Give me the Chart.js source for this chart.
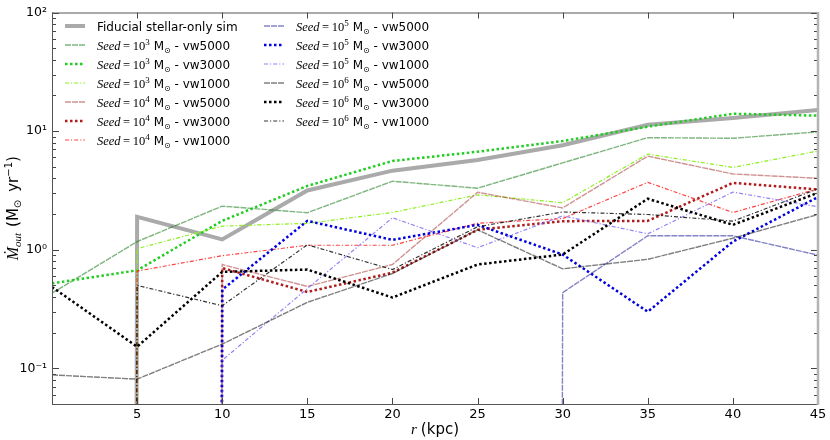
<!DOCTYPE html>
<html>
<head>
<meta charset="utf-8">
<script src="https://cdn.jsdelivr.net/npm/chart.js@4.4.1/dist/chart.umd.min.js"></script>
<style>
html,body{margin:0;padding:0;background:#fff}
canvas{display:block}
</style>
</head>
<body>
<canvas id="c" width="830" height="440"></canvas>
<script>
// radius (kpc) and outflow rates. 0 = no outflow (falls off the log axis)
const radius = [0, 5, 10, 15, 20, 25, 30, 35, 40, 45]
const fiducial = [0, 1.89, 1.22, 3.16, 4.64, 5.7, 7.6, 11.3, 12.9, 15.1]
const seed3_vw5000 = [0.43, 1.17, 2.33, 2.05, 3.78, 3.3, 5.4, 8.8, 8.7, 9.85]
const seed3_vw3000 = [0.52, 0.67, 1.75, 3.45, 5.6, 6.7, 8.25, 10.9, 14.0, 13.5]
const seed3_vw1000 = [0, 1.02, 1.58, 1.67, 2.06, 2.9, 2.49, 6.4, 4.94, 6.8]
const seed4_vw5000 = [0, 0, 0.75, 0.49, 0.75, 3.05, 2.25, 6.15, 4.35, 4.0]
const seed4_vw3000 = [0, 0, 0.70, 0.44, 0.64, 1.47, 1.74, 1.75, 3.66, 3.22]
const seed4_vw1000 = [0, 0.66, 0.89, 1.09, 1.09, 1.67, 1.83, 3.7, 2.06, 3.26]
const seed5_vw5000 = [0, 0, 0, 0, 0, 0, 0.435, 1.31, 1.31, 0.9]
const seed5_vw3000 = [0, 0, 0.46, 1.75, 1.21, 1.62, 0.91, 0.30, 1.17, 2.78]
const seed5_vw1000 = [0, 0, 0.117, 0.47, 1.86, 1.04, 1.93, 1.36, 3.06, 2.3]
const seed6_vw5000 = [0.088, 0.081, 0.16, 0.36, 0.63, 1.47, 0.69, 0.83, 1.25, 1.98]
const seed6_vw3000 = [0.485, 0.152, 0.65, 0.68, 0.395, 0.75, 0.91, 2.69, 1.62, 3.02]
const seed6_vw1000 = [0, 0.5, 0.337, 1.1, 0.68, 1.56, 2.08, 1.98, 1.74, 3.26]

const xTicks = [5, 10, 15, 20, 25, 30, 35, 40, 45]
const yTicks = [0.1, 1, 10, 100]
const yTickLabels = ['10\u207B\u00B9', '10\u2070', '10\u00B9', '10\u00B2']

// line styles per wind velocity
const vwStyle = {
    vw5000: {width: 1.4, dash: [6, 1]},
    vw3000: {width: 2.5, dash: [2.5, 2.5]},
    vw1000: {width: 1.2, dash: [4, 2, 1.2, 2]}
}

const series = [
    {seed: 3, vw: 'vw5000', data: seed3_vw5000, color: 'rgba(0,110,0,0.5)'},
    {seed: 3, vw: 'vw3000', data: seed3_vw3000, color: 'rgb(34,204,34)'},
    {seed: 3, vw: 'vw1000', data: seed3_vw1000, color: 'rgb(140,240,30)'},
    {seed: 4, vw: 'vw5000', data: seed4_vw5000, color: 'rgba(160,40,40,0.5)'},
    {seed: 4, vw: 'vw3000', data: seed4_vw3000, color: 'rgb(176,28,28)'},
    {seed: 4, vw: 'vw1000', data: seed4_vw1000, color: 'rgba(255,0,0,0.75)'},
    {seed: 5, vw: 'vw5000', data: seed5_vw5000, color: 'rgba(30,30,150,0.55)'},
    {seed: 5, vw: 'vw3000', data: seed5_vw3000, color: 'rgb(0,0,224)'},
    {seed: 5, vw: 'vw1000', data: seed5_vw1000, color: 'rgba(110,90,240,0.75)'},
    {seed: 6, vw: 'vw5000', data: seed6_vw5000, color: 'rgba(0,0,0,0.5)'},
    {seed: 6, vw: 'vw3000', data: seed6_vw3000, color: 'rgb(0,0,0)'},
    {seed: 6, vw: 'vw1000', data: seed6_vw1000, color: 'rgba(0,0,0,0.8)'}
]

// matplotlib clips zeros on a log axis to a tiny number, so the line drops straight down
function logClip(v){ return v > 0 ? v : 1e-300 }
function points(vals){ return radius.map((r,i)=>({x: r, y: logClip(vals[i])})) }

var datasets = [{
    label: 'Fiducial stellar-only sim',
    data: points(fiducial),
    borderColor: 'rgb(170,170,170)',
    borderWidth: 4,
    pointRadius: 0,
    order: series.length + 1,
    clip: 0
}]
series.forEach(function(s, i){
    datasets.push({
        label: 'Seed=10^' + s.seed + ' - ' + s.vw,
        data: points(s.data),
        borderColor: s.color,
        borderWidth: vwStyle[s.vw].width,
        borderDash: vwStyle[s.vw].dash,
        borderCapStyle: 'butt',
        pointRadius: 0,
        order: series.length - i,
        clip: 0
    })
})

const SANS = '"DejaVu Sans", sans-serif'
const SERIF = '"Liberation Serif", serif'

function drawRuns(ctx, x, y, runs){
    runs.forEach(function(r){
        ctx.font = r.f
        ctx.fillText(r.t, x, y + (r.dy || 0))
        x += ctx.measureText(r.t).width + (r.gap || 0)
    })
}
function runsWidth(ctx, runs){
    var w = 0
    runs.forEach(function(r){ ctx.font = r.f; w += ctx.measureText(r.t).width + (r.gap || 0) })
    return w
}
function seedRuns(s){
    return [
        {t: 'Seed', f: 'italic 12.5px ' + SERIF, gap: 2.5},
        {t: '=', f: '12.5px ' + SERIF, gap: 2.5},
        {t: '10', f: '12.5px ' + SERIF},
        {t: String(s.seed), f: '9px ' + SERIF, dy: -5, gap: 4},
        {t: 'M', f: '12px ' + SANS},
        {t: '\u2299', f: '8px ' + SANS, dy: 3},
        {t: ' - ' + s.vw, f: '12px ' + SANS}
    ]
}

const decor = {
    id: 'decor',
    afterDraw(chart){
        const ctx = chart.ctx, a = chart.chartArea
        const x = chart.scales.x, y = chart.scales.y
        ctx.save()
        ctx.lineWidth = 1
        ctx.strokeStyle = '#444'
        ctx.setLineDash([])
        function seg(x1, y1, x2, y2){ ctx.beginPath(); ctx.moveTo(x1, y1); ctx.lineTo(x2, y2); ctx.stroke() }
        // inward ticks
        xTicks.forEach(function(v){
            var px = Math.round(x.getPixelForValue(v)) + 0.5
            seg(px, a.bottom, px, a.bottom - 6)
            seg(px, a.top, px, a.top + 6)
        })
        for (var d = -2; d <= 2; d++){
            for (var k = 1; k <= 9; k++){
                var v = k * Math.pow(10, d)
                if (v < y.min || v > y.max) continue
                var py = Math.round(y.getPixelForValue(v)) + 0.5
                var len = k === 1 ? 7 : 4
                seg(a.left, py, a.left + len, py)
                seg(a.right, py, a.right - len, py)
            }
        }
        // spines
        ctx.strokeStyle = '#555'
        seg(a.left + 0.5, a.top, a.left + 0.5, a.bottom)
        seg(a.left, a.top + 0.5, a.right, a.top + 0.5)
        seg(a.left, a.bottom + 0.5, a.right, a.bottom + 0.5)
        ctx.strokeStyle = '#b4b4b4'
        ctx.lineWidth = 2.5
        seg(a.right, a.top, a.right, a.bottom + 1)

        // legend, two columns
        ctx.fillStyle = '#000'
        ctx.textBaseline = 'alphabetic'
        var rows = [{ds: datasets[0], runs: [{t: 'Fiducial stellar-only sim', f: '12px ' + SANS}]}]
        series.forEach(function(s, i){ rows.push({ds: datasets[i + 1], runs: seedRuns(s)}) })
        rows.forEach(function(r, i){
            var col = i < 7 ? 0 : 1
            var row = i < 7 ? i : i - 7
            var lx = col === 0 ? 65 : 264
            var tx = col === 0 ? 97 : 296
            var ly = 26 + row * 19
            ctx.strokeStyle = r.ds.borderColor
            ctx.lineWidth = r.ds.borderWidth
            ctx.setLineDash(r.ds.borderDash || [])
            ctx.lineCap = 'butt'
            seg(lx, ly, lx + 20, ly)
            ctx.setLineDash([])
            drawRuns(ctx, tx, ly + 4.5, r.runs)
        })

        // axis titles
        var xr = [
            {t: 'r', f: 'italic 15px ' + SERIF, gap: 4},
            {t: '(kpc)', f: '15px ' + SANS}
        ]
        drawRuns(ctx, (a.left + a.right) / 2 - runsWidth(ctx, xr) / 2, 434, xr)
        var yr = [
            {t: '\u1E40', f: 'italic 16px ' + SERIF},
            {t: 'out', f: 'italic 11px ' + SERIF, dy: 3, gap: 6},
            {t: '(M', f: '15px ' + SANS},
            {t: '\u2299', f: '10px ' + SANS, dy: 3, gap: 8},
            {t: 'yr', f: '15px ' + SANS},
            {t: '\u22121', f: '10px ' + SANS, dy: -6},
            {t: ')', f: '15px ' + SANS}
        ]
        ctx.translate(18, (a.top + a.bottom) / 2)
        ctx.rotate(-Math.PI / 2)
        drawRuns(ctx, -runsWidth(ctx, yr) / 2, 0, yr)
        ctx.restore()
    }
}

var ctx = document.getElementById('c')
var chart = new Chart(ctx, {
    type: 'line',
    data: {datasets: datasets},
    options: {
        responsive: false,
        animation: false,
        devicePixelRatio: 1,
        layout: {padding: {left: 0, right: 12, top: 8, bottom: 0}},
        plugins: {legend: {display: false}, tooltip: {enabled: false}},
        scales: {
            x: {
                type: 'linear', min: 0, max: 45,
                grid: {display: false, drawTicks: false},
                border: {display: false},
                afterBuildTicks: function(s){ s.ticks = xTicks.map(v => ({value: v})) },
                afterFit: function(s){ s.height = 36 },
                ticks: {autoSkip: false, maxRotation: 0, padding: 3, color: '#000',
                    font: {family: 'DejaVu Sans', size: 13}, callback: v => String(v)}
            },
            y: {
                type: 'logarithmic', min: 0.05, max: 100,
                grid: {display: false, drawTicks: false},
                border: {display: false},
                afterBuildTicks: function(s){ s.ticks = yTicks.map(v => ({value: v, major: true})) },
                afterFit: function(s){ s.width = 52 },
                ticks: {autoSkip: false, padding: 5, color: '#000',
                    font: {family: 'DejaVu Sans', size: 12.5},
                    callback: function(v, i){ return yTickLabels[i] }}
            }
        }
    },
    plugins: [decor]
})
</script>
</body>
</html>
